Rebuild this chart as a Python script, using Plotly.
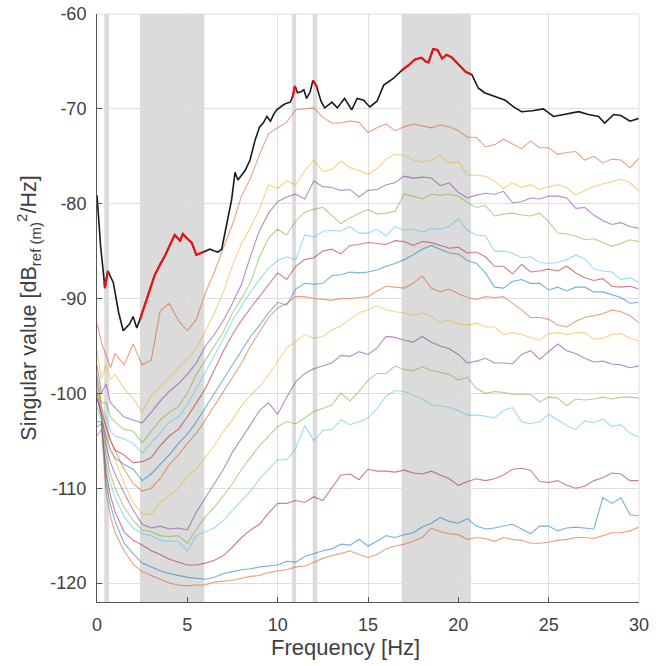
import plotly.graph_objects as go
import numpy as np

# shared frequency grid for the coloured singular values [Hz]
freq = [0, 0.25, 0.5, 0.75, 1.0, 1.5, 2.0, 2.5, 3.0, 3.5, 4.0, 4.5, 5.0, 5.5, 6.0, 6.5, 7.0, 7.5, 8.0, 8.5, 9.0, 9.5,
        10.0, 10.5, 11.0, 11.5, 12.0, 12.5, 13.0, 13.5, 14.0, 14.5, 15.0, 15.5, 16.0, 16.5, 17.0, 17.5, 18.0, 18.5, 19.0, 19.5,
        20.0, 20.5, 21.0, 21.5, 22.0, 22.5, 23.0, 23.5, 24.0, 24.5, 25.0, 25.5, 26.0, 26.5, 27.0, 27.5, 28.0, 28.5, 29.0, 29.5, 30.0]

sv2 = [-92.6, -94.7, -96.0, -97.3, -95.8, -97.0, -94.8, -97.0, -96.5, -91.3, -90.5, -92.3, -93.4, -92.2, -89.4, -87.2, -84.6, -82.2, -79.2, -77.3, -74.8, -72.6,
       -72.0, -71.4, -70.1, -70.0, -69.9, -70.9, -71.5, -71.5, -71.3, -71.4, -72.5, -72.0, -71.6, -72.3, -71.9, -71.6, -71.8, -72.0, -71.7, -71.9,
       -72.3, -73.0, -73.0, -74.0, -73.8, -73.2, -73.7, -74.2, -73.4, -74.1, -74.1, -74.8, -74.6, -74.5, -75.4, -75.0, -75.7, -75.3, -75.4, -76.2, -75.2]
sv3 = [-95.5, -98.5, -97.0, -98.5, -98.0, -99.5, -100.5, -102.0, -100.2, -99.3, -98.3, -97.3, -96.4, -95.3, -93.4, -91.5, -89.3, -86.5, -84.2, -82.5, -80.5, -78.0,
       -78.4, -77.6, -78.0, -76.5, -75.4, -76.6, -76.4, -75.5, -76.2, -76.5, -76.9, -76.3, -75.3, -74.8, -74.9, -75.4, -75.6, -75.4, -74.9, -75.7,
       -75.6, -77.0, -77.0, -77.1, -77.6, -78.4, -77.8, -78.3, -78.0, -78.5, -78.2, -78.0, -78.3, -79.1, -78.6, -78.2, -77.9, -77.7, -77.4, -77.8, -78.7]
sv4 = [-97.0, -100.0, -99.0, -101.0, -101.5, -102.5, -102.8, -103.1, -102.0, -100.8, -99.8, -99.0, -98.0, -96.8, -95.0, -93.8, -92.3, -90.5, -88.5, -85.5, -82.8, -81.0,
       -79.8, -79.3, -79.0, -79.5, -77.6, -78.2, -78.3, -78.6, -78.5, -79.3, -78.6, -78.5, -78.0, -77.8, -77.1, -77.3, -77.2, -77.3, -78.1, -77.8,
       -78.8, -79.4, -79.1, -78.9, -79.0, -78.7, -79.9, -79.8, -79.4, -79.5, -79.2, -79.2, -79.4, -80.5, -80.4, -81.2, -81.8, -82.2, -82.0, -82.4, -82.6]
sv5 = [-98.0, -101.0, -101.0, -102.5, -103.0, -103.8, -104.0, -105.2, -104.0, -102.8, -102.0, -101.4, -100.0, -98.0, -96.5, -95.0, -93.5, -91.5, -90.0, -88.3, -85.6, -83.6,
       -82.7, -83.3, -81.8, -80.9, -80.6, -80.4, -81.2, -82.1, -81.5, -81.0, -80.6, -81.1, -81.0, -80.8, -79.0, -79.2, -79.5, -79.0, -79.1, -79.0,
       -79.2, -79.9, -80.4, -80.2, -81.3, -81.1, -81.0, -81.2, -81.3, -81.0, -81.9, -83.1, -83.2, -83.4, -83.8, -83.7, -84.1, -84.5, -84.2, -83.8, -84.0]
sv6 = [-99.0, -101.5, -102.5, -104.0, -104.5, -104.8, -105.3, -106.3, -105.2, -104.2, -103.0, -102.5, -101.2, -99.5, -97.8, -96.0, -94.2, -92.3, -90.8, -89.3, -88.0, -86.8,
       -86.0, -85.6, -85.9, -83.3, -83.5, -82.9, -82.8, -82.9, -82.4, -83.1, -83.1, -82.7, -83.4, -82.4, -82.8, -82.7, -83.0, -82.6, -82.7, -82.4,
       -81.6, -82.8, -83.3, -83.4, -85.0, -85.0, -85.2, -85.7, -85.6, -86.2, -86.3, -86.2, -85.9, -85.4, -85.8, -86.9, -87.1, -87.2, -88.0, -87.8, -88.3]
sv7 = [-100.0, -102.0, -103.5, -105.0, -106.0, -106.5, -107.3, -107.2, -106.8, -105.5, -104.5, -103.8, -102.5, -101.0, -99.5, -97.5, -95.5, -93.8, -92.3, -91.0, -89.8, -88.5,
       -87.3, -88.0, -86.6, -85.9, -85.7, -85.0, -84.8, -85.3, -84.4, -84.3, -84.1, -84.2, -84.3, -83.9, -84.0, -84.4, -84.0, -84.1, -84.4, -84.7,
       -84.6, -85.2, -85.1, -85.6, -86.6, -86.6, -87.4, -86.4, -87.2, -87.1, -86.9, -87.1, -86.6, -87.3, -87.8, -88.1, -87.9, -88.7, -88.8, -88.7, -89.0]
sv8 = [-100.5, -102.5, -104.5, -106.0, -106.8, -107.5, -108.0, -109.2, -108.5, -107.5, -106.5, -105.3, -104.3, -103.0, -101.5, -100.0, -98.4, -97.0, -95.5, -94.0, -92.8, -91.5,
       -90.4, -90.7, -89.0, -88.4, -88.5, -88.4, -87.6, -87.5, -87.2, -87.3, -87.2, -87.0, -86.6, -86.3, -85.9, -85.4, -84.8, -84.4, -84.8, -85.2,
       -85.3, -86.0, -86.3, -87.3, -88.8, -88.9, -88.2, -88.0, -88.4, -88.4, -89.1, -88.8, -89.2, -88.8, -88.8, -89.3, -89.3, -89.6, -89.9, -90.5, -90.4]
sv9 = [-98.5, -101.5, -103.5, -105.0, -106.0, -108.0, -109.5, -110.3, -110.0, -109.0, -107.5, -106.5, -105.3, -104.2, -102.8, -101.3, -99.8, -98.3, -96.8, -95.0, -93.5, -92.0,
       -91.0, -90.5, -89.8, -89.8, -90.0, -90.1, -90.2, -90.0, -90.0, -89.9, -89.8, -89.2, -88.7, -88.8, -88.9, -88.4, -87.6, -88.9, -89.3, -89.0,
       -89.5, -89.9, -90.1, -89.8, -89.9, -89.8, -90.5, -91.2, -92.0, -92.0, -92.2, -92.8, -93.0, -92.4, -92.0, -91.8, -91.6, -91.2, -91.4, -91.8, -92.6]
sv10 = [-99.5, -102.0, -104.5, -106.0, -107.0, -109.5, -111.5, -112.7, -112.8, -111.5, -110.8, -110.0, -108.8, -108.0, -106.8, -105.5, -104.0, -102.8, -101.3, -100.2, -99.3, -98.0,
        -96.7, -95.2, -94.5, -93.8, -94.2, -94.0, -93.3, -92.9, -92.2, -91.5, -91.2, -90.8, -91.2, -91.4, -91.5, -91.8, -91.5, -91.9, -92.5, -92.3,
        -92.7, -92.8, -92.6, -93.0, -93.0, -93.8, -93.6, -93.8, -94.1, -94.4, -93.7, -93.6, -93.8, -93.6, -93.6, -94.3, -94.2, -93.8, -93.7, -94.2, -94.5]
sv11 = [-100.5, -102.3, -105.5, -107.3, -108.5, -110.5, -112.3, -113.8, -114.2, -114.0, -114.3, -114.2, -114.4, -112.5, -111.0, -109.5, -108.0, -106.2, -104.8, -103.3, -101.8, -101.0,
        -102.2, -100.4, -98.8, -97.9, -97.4, -97.1, -96.8, -96.0, -96.1, -95.6, -95.9, -95.2, -94.0, -94.1, -94.4, -94.6, -94.0, -94.6, -95.0, -95.3,
        -95.9, -96.8, -96.6, -96.3, -96.8, -96.8, -96.9, -95.9, -95.5, -96.4, -95.6, -94.8, -95.5, -95.8, -96.3, -96.7, -96.6, -96.9, -97.0, -97.3, -97.1]
sv12 = [-101.5, -102.5, -106.5, -108.5, -110.0, -112.0, -113.4, -114.4, -114.6, -115.0, -115.1, -115.0, -115.8, -114.3, -113.0, -112.0, -110.8, -109.5, -108.0, -106.8, -105.5, -104.5,
        -103.5, -103.0, -103.2, -102.6, -101.9, -101.6, -101.2, -100.0, -100.8, -99.8, -98.6, -97.9, -97.9, -97.1, -97.5, -97.6, -97.2, -97.6, -97.8, -98.0,
        -98.6, -98.3, -99.5, -100.0, -99.8, -99.9, -100.1, -100.1, -100.1, -100.9, -100.4, -100.5, -101.3, -100.6, -100.7, -100.6, -100.4, -100.6, -100.4, -100.4, -100.5]
sv13 = [-102.0, -102.8, -107.5, -109.5, -111.0, -113.0, -114.2, -114.8, -115.0, -115.5, -115.6, -115.6, -116.6, -115.0, -114.6, -114.2, -113.4, -112.3, -111.3, -110.3, -109.0, -108.0,
        -107.0, -107.0, -105.8, -103.4, -105.0, -103.9, -103.8, -102.8, -103.3, -103.0, -102.6, -101.6, -100.3, -99.7, -99.8, -100.2, -100.6, -101.2, -101.3, -101.5,
        -101.8, -102.3, -102.3, -102.4, -102.6, -101.8, -101.5, -103.0, -103.2, -103.0, -102.2, -102.8, -103.4, -103.8, -102.9, -103.1, -102.7, -103.5, -103.3, -104.2, -104.6]
sv14 = [-103.0, -103.0, -108.5, -110.8, -112.5, -114.6, -115.5, -116.0, -116.6, -117.0, -117.5, -117.8, -118.1, -118.1, -117.9, -117.6, -117.1, -116.2, -115.2, -114.4, -113.8, -112.6,
        -111.6, -111.6, -111.3, -111.5, -110.9, -111.3, -110.0, -108.6, -108.5, -109.1, -108.0, -108.2, -108.2, -108.3, -108.1, -108.4, -108.5, -108.2, -108.6, -109.0,
        -109.7, -109.3, -109.0, -109.2, -109.0, -108.6, -108.0, -107.9, -108.1, -109.3, -109.4, -109.2, -109.7, -110.0, -109.8, -109.2, -108.9, -108.4, -108.5, -109.2, -109.2]
sv15 = [-103.5, -103.2, -109.5, -111.8, -113.5, -115.8, -116.9, -117.9, -118.3, -118.7, -119.0, -119.2, -119.4, -119.5, -119.6, -119.4, -119.0, -118.8, -118.6, -118.5, -118.3, -118.2,
        -118.1, -117.7, -117.8, -117.2, -116.9, -116.6, -116.4, -115.9, -116.0, -115.4, -116.1, -115.6, -115.0, -115.2, -114.9, -114.7, -114.1, -113.7, -113.1, -113.5,
        -113.7, -113.2, -114.0, -114.3, -114.2, -114.0, -113.8, -114.3, -114.8, -114.0, -114.0, -114.5, -114.2, -114.1, -114.2, -114.3, -111.0, -111.6, -111.0, -112.8, -112.9]
sv16 = [-104.5, -103.8, -110.5, -113.0, -114.7, -116.6, -118.0, -118.8, -119.2, -119.6, -120.0, -120.2, -120.3, -120.2, -120.2, -119.9, -119.8, -119.7, -119.5, -119.3, -119.2, -118.9,
        -118.7, -118.6, -118.3, -118.2, -117.8, -117.4, -117.1, -116.9, -116.6, -117.0, -117.3, -117.0, -116.4, -116.1, -115.9, -115.6, -115.2, -114.2, -114.6, -114.8,
        -114.9, -115.4, -115.2, -115.3, -115.6, -115.2, -115.4, -115.5, -115.8, -115.8, -115.7, -115.5, -115.4, -115.2, -115.2, -115.3, -115.0, -114.7, -114.7, -114.5, -114.1]

# first singular value (black), finer sampling
sv1_freq = [0, 0.2, 0.44, 0.6, 0.9, 1.2, 1.45, 1.8, 2.0, 2.2, 2.38, 2.7, 3.0, 3.2, 3.5, 3.76, 4.0, 4.3, 4.6, 4.75, 5.0, 5.24,
            5.5, 5.75, 5.98, 6.25, 6.5, 6.7, 6.9, 7.2, 7.45, 7.64, 7.8, 8.0, 8.2, 8.47, 8.75, 9.0, 9.2, 9.4, 9.6, 9.8, 9.95,
            10.3, 10.5, 10.7, 10.85, 10.95, 11.1, 11.3, 11.45, 11.6, 11.8, 11.95, 12.15, 12.4, 12.6, 12.8, 13.0, 13.3, 13.7,
            14.1, 14.4, 14.76, 15.1, 15.5, 15.87, 16.1, 16.4, 16.9, 17.25, 17.6, 17.95, 18.2, 18.35, 18.6, 18.85, 19.1, 19.35,
            19.65, 20.0, 20.4, 20.75, 21.1, 21.45, 22.0, 22.6, 23.06, 23.5, 24.1, 24.7, 25.27, 25.9, 26.66, 27.2, 27.76, 28.1,
            28.6, 29.0, 29.5, 30.0]
sv1 = [-79.1, -84.5, -88.9, -87.1, -88.3, -91.5, -93.4, -92.7, -91.9, -93.1, -92.2, -90.3, -88.6, -87.5, -86.4, -85.5, -84.5, -83.3, -83.9, -83.2, -83.7, -84.1,
       -85.4, -85.2, -85.0, -84.8, -85.0, -85.1, -84.8, -82.0, -79.6, -76.7, -77.5, -77.0, -76.5, -75.4, -73.3, -71.9, -71.5, -70.8, -71.3, -70.5, -70.1,
       -69.6, -69.4, -69.3, -68.6, -67.6, -68.3, -68.2, -68.0, -68.9, -68.2, -67.0, -67.6, -69.2, -69.9, -69.6, -69.3, -69.9, -68.9,
       -70.1, -68.9, -69.1, -69.8, -69.2, -67.5, -67.2, -66.8, -65.9, -65.4, -64.8, -64.6, -65.0, -65.1, -63.7, -63.8, -64.7, -64.3,
       -64.6, -65.3, -66.1, -66.4, -67.8, -68.3, -68.7, -69.1, -69.8, -70.3, -70.2, -70.0, -70.8, -70.6, -70.3, -70.6, -70.8, -71.5,
       -70.6, -70.7, -71.3, -71.0]

# highlighted frequency bands [Hz]
band_lo = [0.40, 2.38, 10.80, 11.94, 16.86]
band_hi = [0.66, 5.94, 11.02, 12.19, 20.70]

series = [sv2, sv3, sv4, sv5, sv6, sv7, sv8, sv9, sv10, sv11, sv12, sv13, sv14, sv15, sv16]
matlab = ["0,114,189", "217,83,25", "237,177,32", "126,47,142", "119,172,48", "77,190,238", "162,20,47"]

fig = go.Figure()

for lo, hi in zip(band_lo, band_hi):
    fig.add_shape(type="rect", xref="x", yref="paper", x0=lo, x1=hi, y0=0, y1=1,
                  fillcolor="rgba(150,150,150,0.34)", line_width=0, layer="below")

for i, s in enumerate(series):
    c = matlab[(i + 1) % 7]
    fig.add_trace(go.Scatter(x=freq, y=s, mode="lines",
                             line=dict(color=f"rgba({c},0.55)", width=1.1),
                             showlegend=False, hoverinfo="skip"))

fig.add_trace(go.Scatter(x=sv1_freq, y=sv1, mode="lines",
                         line=dict(color="#1a1a1a", width=1.6), showlegend=False))

# red overlay of the first singular value inside the bands
f1 = np.array(sv1_freq)
v1 = np.array(sv1)
rx, ry = [], []
for lo, hi in zip(band_lo, band_hi):
    inside = f1[(f1 > lo) & (f1 < hi)]
    xs = np.concatenate([[lo], inside, [hi]])
    ys = np.interp(xs, f1, v1)
    rx += list(xs) + [None]
    ry += list(ys) + [None]
fig.add_trace(go.Scatter(x=rx, y=ry, mode="lines", line=dict(color="#e3151a", width=2.2),
                         showlegend=False, connectgaps=False))

font_col = "#404040"
fig.update_layout(
    width=664, height=666,
    margin=dict(l=97, r=25, t=14, b=64, autoexpand=False),
    paper_bgcolor="white", plot_bgcolor="white",
    font=dict(family="Liberation Sans, Arial, sans-serif", size=18, color=font_col),
)
fig.update_xaxes(range=[0, 30], tickvals=[0, 5, 10, 15, 20, 25, 30],
                 ticktext=["0", "5", "10", "15", "20", "25", "30"],
                 showgrid=True, gridcolor="#dedede", gridwidth=1,
                 showline=True, linecolor="#555555", linewidth=1, mirror=False,
                 ticks="inside", ticklen=5, tickcolor="#555555", zeroline=False,
                 automargin=False, ticklabelstandoff=6, ticklabeloverflow="allow")
fig.update_yaxes(range=[-122, -60], tickvals=[-120, -110, -100, -90, -80, -70, -60],
                 ticktext=["-120", "-110", "-100", "-90", "-80", "-70", "-60"],
                 showgrid=True, gridcolor="#dedede", gridwidth=1,
                 showline=True, linecolor="#555555", linewidth=1, mirror=False,
                 ticks="inside", ticklen=5, tickcolor="#555555", zeroline=False,
                 automargin=False, ticklabelstandoff=6, ticklabeloverflow="allow",
                 title=dict(text="Singular value [dB<sub>ref (m)</sub><sup>2</sup>/Hz]",
                            font=dict(size=21.5, color=font_col), standoff=7))

# x-axis label (placed slightly left of centre as in the source figure)
fig.add_annotation(text="Frequency [Hz]", xref="paper", yref="paper", x=0.458, y=-0.078,
                   xanchor="center", yanchor="middle", showarrow=False,
                   font=dict(size=22, color=font_col))

# light frame on the top and right sides
fig.add_shape(type="line", xref="paper", yref="paper", x0=0, x1=1, y0=1, y1=1,
              line=dict(color="#dedede", width=1))
fig.add_shape(type="line", xref="paper", yref="paper", x0=1, x1=1, y0=0, y1=1,
              line=dict(color="#dedede", width=1))

fig.write_html("out.html", config={"displayModeBar": False},
               post_script="document.body.style.margin='0';")
